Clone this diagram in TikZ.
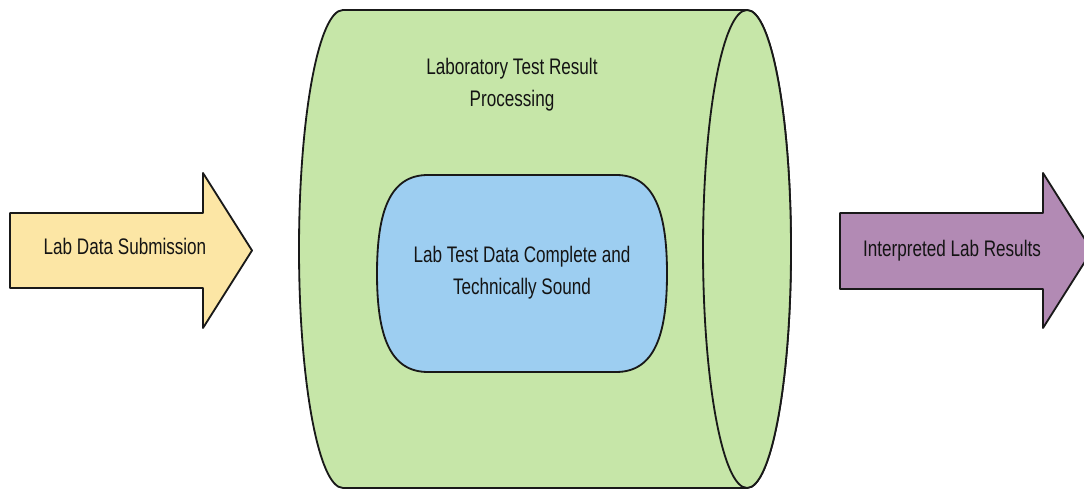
\documentclass[tikz,border=0pt]{standalone}
\usepackage{fontspec}
\newfontfamily\narrowsans[FakeStretch=0.76]{Liberation Sans}
\definecolor{submitfill}{HTML}{FCE6A5}
\definecolor{resultfill}{HTML}{B28AB4}
\definecolor{processfill}{HTML}{C6E6A8}
\definecolor{checkfill}{HTML}{9DCEF1}

\begin{document}
\begin{tikzpicture}[x=0.025cm, y=0.025cm,
	outline/.style={draw=black!90, line width=1.3pt, line join=round},
	boxtext/.style={font=\narrowsans\fontsize{16}{22.7}\selectfont, text=black!92, inner sep=0pt}]
			\useasboundingbox (0,0) rectangle (1084,491);
			\draw [outline, fill=submitfill] (10,278) -- (203,278) -- (203,318) -- (252,240.5) -- (203,163) -- (203,203) -- (10,203) -- cycle;
			\draw [outline, fill=resultfill] (840,278) -- (1043,278) -- (1043,318) -- (1092,240.5) -- (1043,163) -- (1043,202) -- (840,202) -- cycle;
			\draw [outline, fill=processfill] (747,481) -- (343,481) arc[start angle=90, end angle=270, x radius=44, y radius=239] -- (747,3) arc[start angle=-90, end angle=90, x radius=44, y radius=239] -- cycle;
			\draw [outline, fill=processfill] (747,242) ellipse [x radius=44, y radius=239];
			\draw [outline, fill=checkfill] (428,316) -- (616,316) .. controls (654,316) and (667,280) .. (667,217.5) .. controls (667,155) and (654,119) .. (616,119) -- (428,119) .. controls (390,119) and (377,155) .. (377,217.5) .. controls (377,280) and (390,316) .. (428,316) -- cycle;
			\node [boxtext, anchor=base] (submit) at (125,236) {Lab Data Submission};
			\node [boxtext, anchor=base] (results) at (952,234) {Interpreted Lab Results};
			\node [boxtext, align=center] (process) at (512,406.5) {Laboratory Test Result\\Processing};
			\node [boxtext, align=center] (check) at (522,218.5) {Lab Test Data Complete and\\Technically Sound};
	\end{tikzpicture}
\end{document}
